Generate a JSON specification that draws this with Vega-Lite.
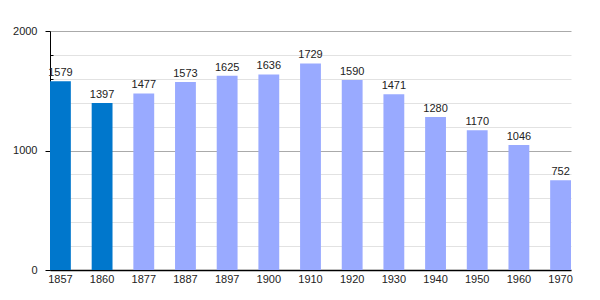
{
  "$schema": "https://vega.github.io/schema/vega-lite/v6.json",
  "width": 521,
  "height": 239,
  "autosize": {"type": "none"},
  "padding": {"left": 50, "top": 31, "right": 29, "bottom": 30},
  "background": "white",
  "config": {"view": {"stroke": null}, "font": "Liberation Sans"},
  "data": {
    "values": [
      {"year": "1857", "pop": 1579, "kind": "a"},
      {"year": "1860", "pop": 1397, "kind": "a"},
      {"year": "1877", "pop": 1477, "kind": "b"},
      {"year": "1887", "pop": 1573, "kind": "b"},
      {"year": "1897", "pop": 1625, "kind": "b"},
      {"year": "1900", "pop": 1636, "kind": "b"},
      {"year": "1910", "pop": 1729, "kind": "b"},
      {"year": "1920", "pop": 1590, "kind": "b"},
      {"year": "1930", "pop": 1471, "kind": "b"},
      {"year": "1940", "pop": 1280, "kind": "b"},
      {"year": "1950", "pop": 1170, "kind": "b"},
      {"year": "1960", "pop": 1046, "kind": "b"},
      {"year": "1970", "pop": 752, "kind": "b"}
    ]
  },
  "encoding": {
    "x": {
      "field": "year", "type": "ordinal",
      "scale": {"paddingInner": 0.5, "paddingOuter": 0},
      "axis": {"title": null, "labelAngle": 0, "ticks": false, "domainColor": "black", "domainWidth": 1.5, "labelFontSize": 11, "labelColor": "#222", "labelPadding": 3, "grid": false}
    },
    "y": {
      "field": "pop", "type": "quantitative",
      "scale": {"domain": [0, 2000], "nice": false},
      "axis": {
        "title": null,
        "values": [0, 200, 400, 600, 800, 1000, 1200, 1400, 1600, 1800, 2000],
        "labelExpr": "datum.value % 1000 === 0 ? datum.value : ''",
        "grid": true,
        "gridColor": {"condition": {"test": "datum.value % 1000 === 0", "value": "#aaaaaa"}, "value": "#e2e2e2"},
        "tickSize": {"condition": {"test": "datum.value % 1000 === 0", "value": 5}, "value": -3},
        "tickColor": "black",
        "domainColor": "black",
        "labelFontSize": 11,
        "labelColor": "#222",
        "labelPadding": 8
      }
    }
  },
  "layer": [
    {
      "mark": {"type": "bar"},
      "encoding": {
        "color": {
          "field": "kind", "type": "nominal",
          "scale": {"domain": ["a", "b"], "range": ["#0077cc", "#99aaff"]},
          "legend": null
        }
      }
    },
    {
      "mark": {"type": "text", "baseline": "bottom", "dy": -3, "fontSize": 11, "color": "#222"},
      "encoding": {"text": {"field": "pop", "type": "quantitative"}}
    }
  ]
}
